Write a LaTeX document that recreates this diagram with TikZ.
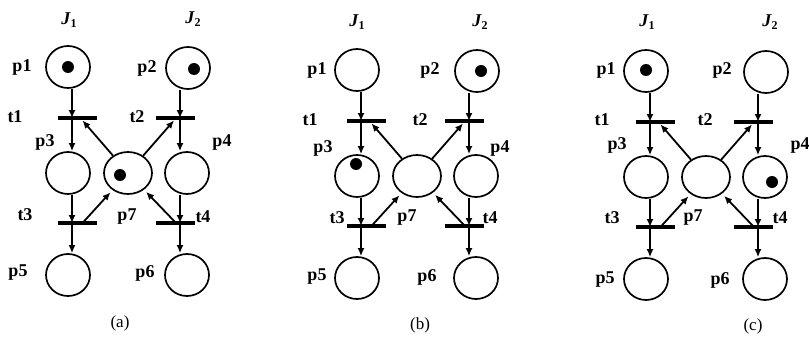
\documentclass[tikz,border=0pt]{standalone}
\usepackage{fontspec}
\setmainfont{Liberation Serif}
\usetikzlibrary{arrows.meta,shapes.geometric}
\tikzset{
  place/.style={ellipse, draw, line width=1.7pt, minimum width=44pt, minimum height=42pt, inner sep=0pt},
  wideplace/.style={place, minimum width=48pt},
  tbar/.style={rectangle, fill=black, minimum width=39pt, minimum height=4.5pt, inner sep=0pt},
  arc/.style={line width=1.8pt, -{Latex[length=8pt,width=7pt]}},
  lbl/.style={font=\fontsize{18}{18}\selectfont\bfseries, inner sep=0pt},
  captxt/.style={font=\fontsize{17}{17}\selectfont, inner sep=0pt},
}
\newcommand\jlab[1]{\textit{J}\raisebox{-3pt}{\fontsize{12}{12}\selectfont #1}}
\newcommand\petrinet[3]{%
  \begin{scope}[shift={(#2,#3)}]
    \coordinate (#1L) at (72,0);
    \coordinate (#1R) at (180,0);
    \node[place] (#1p1) at (68,67) {};
    \node[place] (#1p2) at (188,68) {};
    \node[tbar] (#1t1) at (77.5,118) {};
    \node[tbar] (#1t2) at (175,118) {};
    \node[place] (#1p3) at (68,173) {};
    \node[wideplace] (#1p7) at (128,173) {};
    \node[place] (#1p4) at (187,173) {};
    \node[tbar] (#1t3) at (77.5,223) {};
    \node[tbar] (#1t4) at (175,223) {};
    \node[place] (#1p5) at (68,275) {};
    \node[place] (#1p6) at (187,275) {};
    \draw[arc] (#1p1.south -| #1L) -- (#1t1.center -| #1L);
    \draw[arc] (#1t1.center -| #1L) -- (#1p3.north -| #1L);
    \draw[arc] (#1p3.south -| #1L) -- (#1t3.center -| #1L);
    \draw[arc] (#1t3.center -| #1L) -- (#1p5.north -| #1L);
    \draw[arc] (#1p2.south -| #1R) -- (#1t2.center -| #1R);
    \draw[arc] (#1t2.center -| #1R) -- (#1p4.north -| #1R);
    \draw[arc] (#1p4.south -| #1R) -- (#1t4.center -| #1R);
    \draw[arc] (#1t4.center -| #1R) -- (#1p6.north -| #1R);
    \draw[arc] (#1p7) -- ([xshift=5pt]#1t1.south);
    \draw[arc] (#1p7) -- ([xshift=-1pt]#1t2.south);
    \draw[arc, shorten >=3pt] ([xshift=5pt]#1t3.center) -- (#1p7);
    \draw[arc, shorten >=3pt] ([xshift=1pt]#1t4.center) -- (#1p7);
  \end{scope}}
\begin{document}
\begin{tikzpicture}[x=1pt,y=-1pt]
  \useasboundingbox (0,0) rectangle (809,340);
  \petrinet{a}{0}{0}
  \petrinet{b}{289}{3}
  \petrinet{c}{578}{4}
  % tokens
  \fill (68,67) circle (6pt);
  \fill (194,69) circle (6pt);
  \fill (120,175) circle (6pt);
  \fill (481,71) circle (6pt);
  \fill (356,164) circle (6pt);
  \fill (646,70) circle (6pt);
  \fill (772,182) circle (6pt);
  % labels (a)
  \node[lbl] (aJ1) at (69,20) {\jlab{1}};
  \node[lbl] (aJ2) at (193,19) {\jlab{2}};
  \node[lbl] (alp1) at (22,67) {p1};
  \node[lbl] (alp2) at (147,68) {p2};
  \node[lbl] (alt1) at (15,117) {t1};
  \node[lbl] (alt2) at (137,117) {t2};
  \node[lbl] (alp3) at (45,142) {p3};
  \node[lbl] (alp4) at (222,142) {p4};
  \node[lbl] (alt3) at (25,215) {t3};
  \node[lbl] (alp7) at (127,217) {p7};
  \node[lbl] (alt4) at (203,217) {t4};
  \node[lbl] (alp5) at (18,273) {p5};
  \node[lbl] (alp6) at (145,273) {p6};
  \node[captxt] (acap) at (120,323) {(a)};
  % labels (b)
  \node[lbl] (bJ1) at (357,22) {\jlab{1}};
  \node[lbl] (bJ2) at (480,22) {\jlab{2}};
  \node[lbl] (blp1) at (317,70) {p1};
  \node[lbl] (blp2) at (430,70) {p2};
  \node[lbl] (blt1) at (310,120) {t1};
  \node[lbl] (blt2) at (420,120) {t2};
  \node[lbl] (blp3) at (323,148) {p3};
  \node[lbl] (blp4) at (500,148) {p4};
  \node[lbl] (blt3) at (337,218) {t3};
  \node[lbl] (blp7) at (407,218) {p7};
  \node[lbl] (blt4) at (490,218) {t4};
  \node[lbl] (blp5) at (317,277) {p5};
  \node[lbl] (blp6) at (427,277) {p6};
  \node[captxt] (bcap) at (420,325) {(b)};
  % labels (c)
  \node[lbl] (cJ1) at (647,22) {\jlab{1}};
  \node[lbl] (cJ2) at (770,22) {\jlab{2}};
  \node[lbl] (clp1) at (606,70) {p1};
  \node[lbl] (clp2) at (722,70) {p2};
  \node[lbl] (clt1) at (602,120) {t1};
  \node[lbl] (clt2) at (705,120) {t2};
  \node[lbl] (clp3) at (617,145) {p3};
  \node[lbl] (clp4) at (800,145) {p4};
  \node[lbl] (clt3) at (612,218) {t3};
  \node[lbl] (clp7) at (693,218) {p7};
  \node[lbl] (clt4) at (780,218) {t4};
  \node[lbl] (clp5) at (605,280) {p5};
  \node[lbl] (clp6) at (720,280) {p6};
  \node[captxt] (ccap) at (753,326) {(c)};
\end{tikzpicture}
\end{document}
